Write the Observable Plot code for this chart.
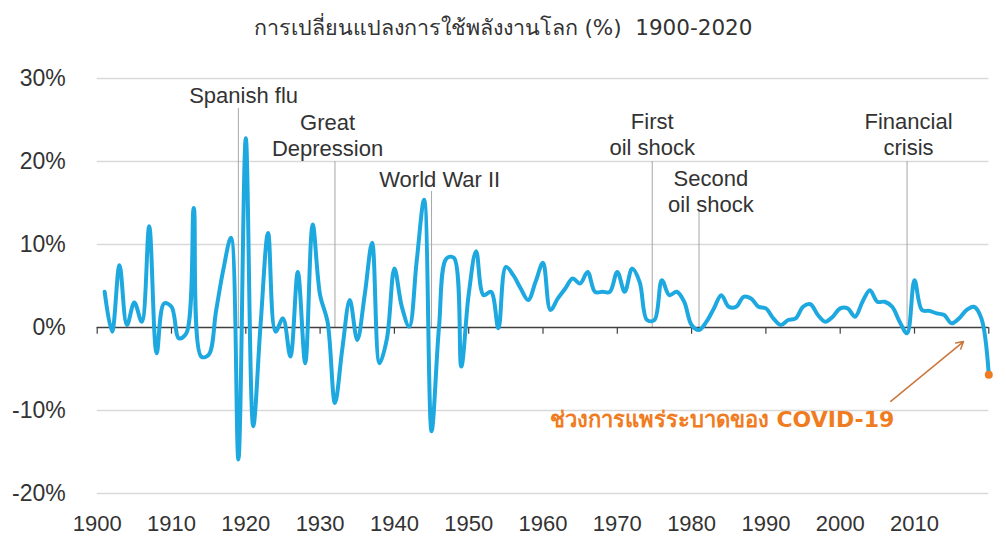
<!DOCTYPE html>
<html>
<head>
<meta charset="utf-8">
<script src="https://cdn.jsdelivr.net/npm/d3@7"></script>
<script src="https://cdn.jsdelivr.net/npm/@observablehq/plot@0.6"></script>
<style>
  html, body { margin: 0; padding: 0; background: #ffffff; }
  #title { height: 50px; line-height: 56px; text-align: center; font-family: Tahoma, "DejaVu Sans", "Noto Sans", sans-serif; font-size: 21.5px; color: #333; }
  #chart { width: 1006px; }
</style>
</head>
<body>
<div id="title">การเปลี่ยนแปลงการใช้พลังงานโลก (%)&nbsp;&nbsp;1900-2020</div>
<div id="chart"></div>
<script>
// ---- data ----
const years = d3.range(1901, 2021);
const growth = [
  4.3, -0.5, 7.5, 0.3, 3.0, 0.7, 12.2, -3.1, 2.9, 2.5,      // 1901-1910
  -1.3, -0.7, 14.4, -3.5, -3.3, 2.0, 7.1, 10.8, -15.9, 22.8, // 1911-1920
  -11.9, 0.5, 11.4, -0.5, 1.1, -3.5, 6.7, -4.3, 12.4, 3.9,  // 1921-1930
  0.7, -9.1, -2.5, 3.3, -1.5, 3.9, 10.2, -4.3, -1.3, 7.1,   // 1931-1940
  2.5, 0.1, 8.0, 15.4, -12.5, 0.0, 8.3, 8.4, -4.7, 4.0,     // 1941-1950
  9.2, 3.9, 4.3, -0.1, 7.3, 6.3, 4.7, 3.3, 5.5, 7.8,        // 1951-1960
  2.1, 3.5, 4.7, 5.9, 5.3, 6.7, 4.3, 4.3, 4.3, 6.7,         // 1961-1970
  4.3, 7.1, 5.5, 0.9, 0.9, 5.7, 3.9, 4.3, 3.1, 0.3,         // 1971-1980
  -0.3, 0.7, 2.3, 3.9, 2.5, 2.5, 3.7, 3.5, 2.5, 2.3,        // 1981-1990
  1.1, 0.3, 0.9, 1.1, 2.5, 2.8, 1.5, 0.7, 1.3, 2.3,         // 1991-2000
  2.3, 1.3, 3.1, 4.5, 3.1, 3.1, 2.5, 0.7, -0.7, 5.7,        // 2001-2010
  2.1, 2.0, 1.7, 1.5, 0.5, 1.1, 2.1, 2.5, 1.1, -5.7         // 2011-2020
];
const yTicks = [-20, -10, 0, 10, 20, 30];
const xTickLabels = [1900, 1910, 1920, 1930, 1940, 1950, 1960, 1970, 1980, 1990, 2000, 2010];
const decadeMarks = [1900, 1910, 1920, 1930, 1940, 1950, 1960, 1970, 1980, 1990, 2000, 2010, 2020];
const eventNames = ["Spanish flu", "Great\nDepression", "World War II", "First\noil shock", "Second\noil shock", "Financial\ncrisis"];
const eventYears = [1919, 1932, 1945, 1974.7, 1981, 2009];
const covidLabel = "ช่วงการแพร่ระบาดของ COVID-19";

// ---- layout (annotation placement, in data units) ----
const eventLineTop = [26.4, 20, 16.4, 20, 14, 20];
const eventLabelX = [1919.7, 1931.0, 1946.1, 1974.7, 1982.6, 2009.2];
const eventLabelY = [28.0, 23.2, 17.9, 23.3, 16.5, 23.3];

const rows = years.map((year, i) => ({year, value: growth[i]}));
const events = eventNames.map((name, i) => ({
  name, year: eventYears[i], top: eventLineTop[i], lx: eventLabelX[i], ly: eventLabelY[i]
}));
const last = rows[rows.length - 1];

const chart = Plot.plot({
  width: 1006,
  height: 488,
  marginLeft: 96.7,
  marginRight: 17.7,
  marginTop: 28,
  marginBottom: 45,
  x: {domain: [1900, 2020]},
  y: {domain: [-20, 30]},
  style: {fontFamily: "'Liberation Sans', Arial, sans-serif", fontSize: "22px", color: "#333", background: "#fff", overflow: "visible"},
  marks: [
    Plot.ruleY(yTicks.filter(d => d !== 0), {stroke: "#d9d9d9", strokeWidth: 1.3}),
    Plot.axisY({ticks: yTicks, tickSize: 0, tickPadding: 31.5, tickFormat: d => `${d}%`, label: null, fontSize: 23}),
    Plot.axisX({ticks: xTickLabels, tickSize: 0, tickPadding: 22, tickFormat: d => String(d), label: null, fontSize: 22}),
    Plot.ruleX(events, {x: "year", y1: 0, y2: "top", stroke: "#a6a6a6", strokeWidth: 1}),
    Plot.ruleY([0], {stroke: "#404040", strokeWidth: 1.5}),
    Plot.ruleX(decadeMarks, {x: d => d, y1: 0, y2: -0.8, stroke: "#404040", strokeWidth: 1.2}),
    Plot.line(rows, {x: "year", y: "value", stroke: "#1EA8E0", strokeWidth: 4, curve: "catmull-rom"}),
    Plot.dot([last], {x: "year", y: "value", fill: "#F07C22", r: 4}),
    Plot.text(events, {x: "lx", y: "ly", text: "name", lineAnchor: "middle", lineHeight: 1.17, fill: "#333", fontSize: 22}),
    Plot.arrow([{x1: 2006.8, y1: -8.9, x2: 2016.6, y2: -1.7}], {x1: "x1", y1: "y1", x2: "x2", y2: "y2", stroke: "#C9773A", strokeWidth: 1.5, headLength: 8}),
    Plot.text([covidLabel], {x: 1984.1, y: -11.1, text: d => d, fill: "#F07C22", fontWeight: "bold", fontSize: 22, fontFamily: "Tahoma, 'DejaVu Sans', sans-serif"})
  ]
});
document.getElementById("chart").append(chart);
</script>
</body>
</html>
